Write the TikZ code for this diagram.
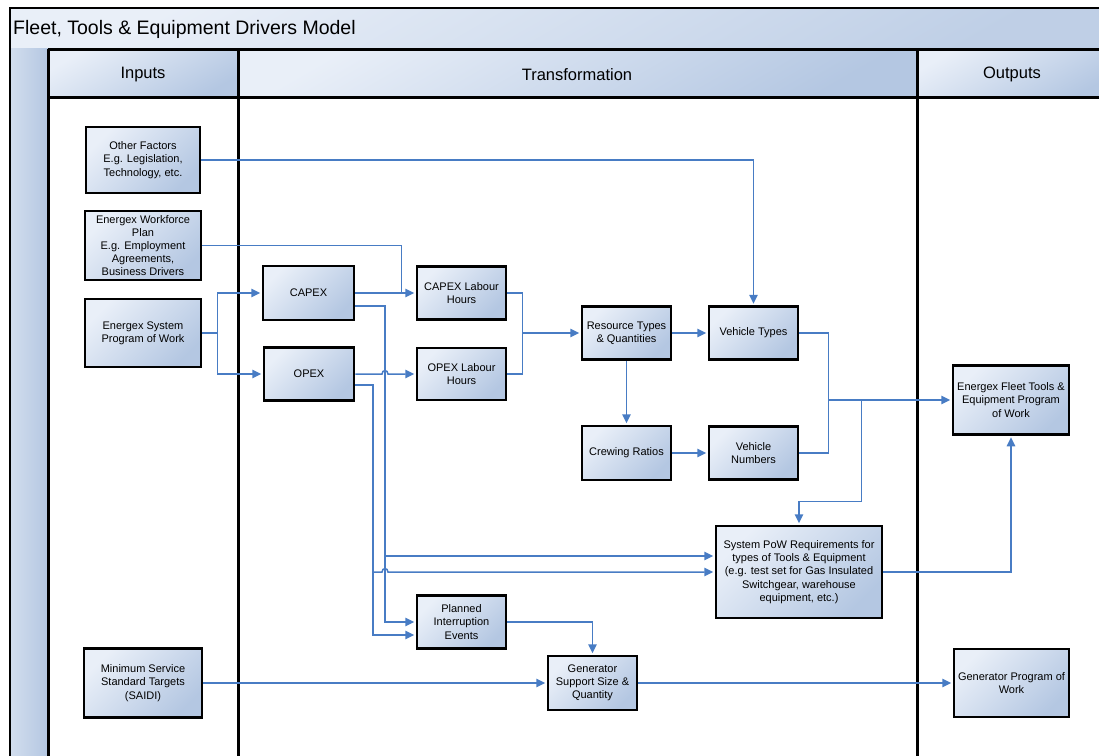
\documentclass[tikz,border=0pt]{standalone}
\usepackage{fontspec}
\setmainfont{Liberation Sans}
\usetikzlibrary{arrows.meta,calc,positioning}

\definecolor{flowblue}{RGB}{72,124,196}
\definecolor{boxlight}{RGB}{233,239,248}
\definecolor{boxdark}{RGB}{180,199,226}

\begin{document}
\begin{tikzpicture}[x=1pt,y=-1pt,
    every node/.append style={font=\fontsize{11}{13.2}\selectfont,align=center,inner sep=1pt},
    box/.style={draw=black,line width=2.9pt,top color=boxlight,bottom color=boxdark,shading angle=45},
    flow/.style={draw=flowblue,line width=1.5pt,shorten >=1.3pt,-{Triangle[length=9pt,width=8.5pt]}},
    link/.style={draw=flowblue,line width=1.5pt},
    lane/.style={line width=3pt},
    head/.style={font=\fontsize{16.5}{19}\selectfont}
  ]
  \useasboundingbox (0,0) rectangle (1099,755);

  % swimlane frame
  \shade[top color=boxlight,bottom color=boxdark!85,shading angle=30] (10,8) rectangle (1112,48);
  \shade[left color=boxdark!60,right color=boxdark] (10,48) rectangle (48,760);
  \foreach \xa/\xb in {48/238,238/917,917/1112}
    \shade[top color=boxlight,bottom color=boxdark,shading angle=30] (\xa,49) rectangle (\xb,97);
  \draw[line width=1.3pt] (1112,8) -- (10,8) -- (10,760);
  \draw[lane] (48,49) -- (1112,49);
  \draw[lane] (48,97) -- (1112,97);
  \foreach \xa in {48,238,917}
    \draw[lane] (\xa,49) -- (\xa,760);

  \node[anchor=west,font=\fontsize{19.5}{22}\selectfont] (title) at (12,29.5) {Fleet, Tools \& Equipment Drivers Model};
  \node[head] (inputs) at (143,74.5) {Inputs};
  \node[head] (transform) at (577,74.5) {Transformation};
  \node[head] (outputs) at (1012,74.5) {Outputs};

  % inputs
  \node[box,minimum width=114,minimum height=66] (other) at (143,160) {Other Factors\\E.g. Legislation,\\Technology, etc.};
  \node[box,minimum width=116,minimum height=69,font=\fontsize{11}{12.8}\selectfont] (wfplan) at (143,245.5) {Energex Workforce\\Plan\\E.g. Employment\\Agreements,\\Business Drivers};
  \node[box,minimum width=116,minimum height=68] (syspow) at (143,333) {Energex System\\Program of Work};
  \node[box,minimum width=118,minimum height=69] (minserv) at (143,683) {Minimum Service\\Standard Targets\\(SAIDI)};

  % transformation
  \node[box,minimum width=91,minimum height=54] (capex) at (308.5,293) {CAPEX};
  \node[box,minimum width=90,minimum height=53] (opex) at (309,374) {OPEX};
  \node[box,minimum width=89,minimum height=53] (capexlab) at (461.5,293) {CAPEX Labour\\Hours};
  \node[box,minimum width=89,minimum height=52] (opexlab) at (461.5,374) {OPEX Labour\\Hours};
  \node[box,minimum width=89,minimum height=53] (restypes) at (626.5,333) {Resource Types\\\& Quantities};
  \node[box,minimum width=89,minimum height=53] (vtypes) at (753.5,333) {Vehicle Types};
  \node[box,minimum width=89,minimum height=54] (crew) at (626.5,453) {Crewing Ratios};
  \node[box,minimum width=89,minimum height=53] (vnum) at (753.5,453) {Vehicle\\Numbers};
  \node[box,minimum width=166,minimum height=92] (reqs) at (799,572) {System PoW Requirements for\\types of Tools \& Equipment\\(e.g. test set for Gas Insulated\\Switchgear, warehouse\\equipment, etc.)};
  \node[box,minimum width=89,minimum height=53] (planned) at (461.5,622) {Planned\\Interruption\\Events};
  \node[box,minimum width=89,minimum height=54] (gensize) at (592.5,683) {Generator\\Support Size \&\\Quantity};

  % outputs
  \node[box,minimum width=116,minimum height=69] (fleet) at (1011,400) {Energex Fleet Tools \&\\Equipment Program\\of Work};
  \node[box,minimum width=115,minimum height=68] (genpow) at (1011.5,683) {Generator Program of\\Work};

  % connectors
  \coordinate (wfjoin) at ($(capexlab.west)+(-14,0)$);
  \coordinate (capbus) at (385,306);
  \coordinate (opbus) at (373,385);
  \coordinate (reqin) at ($(reqs.west)+(0,-16)$);
  \coordinate (plin) at ($(planned.west)+(0,13)$);

  \draw[flow] (other.east) -| (vtypes.north);
  \draw[link] (wfplan.east) -| (wfjoin);
  \draw[flow] (syspow.east) -- ++(15,0) coordinate (spjoin) |- (capex.west);
  \draw[flow] (spjoin) |- (opex.west);
  \draw[flow] (capex.east) -- (capexlab.west);
  \draw[flow] (opex.east) -- (382,374) .. controls (382,369.5) and (388,369.5) .. (388,374) -- (opexlab.west);
  \draw[flow] ($(capex.east)+(0,13)$) -- (capbus) |- (planned.west);
  \draw[flow] (capbus |- reqin) -- (reqin);
  \draw[flow] ($(opex.east)+(0,11)$) -- (opbus) |- (plin);
  \draw[flow] (opbus |- reqs.west) -- (382,572) .. controls (382,567.5) and (388,567.5) .. (388,572) -- (reqs.west);
  \draw[flow] (capexlab.east) -- ++(15,0) coordinate (labjoin) |- (restypes.west);
  \draw[link] (opexlab.east) -| (labjoin);
  \draw[flow] (restypes.east) -- (vtypes.west);
  \draw[flow] (restypes.south) -- (crew.north);
  \draw[flow] (crew.east) -- (vnum.west);
  \draw[flow] (vtypes.east) -- ++(29,0) coordinate (vjoin) |- (fleet.west);
  \draw[link] (vnum.east) -| (vjoin);
  \coordinate (split) at ($(vjoin |- fleet.west)+(33,0)$);
  \draw[flow] (split) |- ($(reqs.north)+(0,-23)$) -- (reqs.north);
  \draw[flow] (reqs.east) -| (fleet.south);
  \draw[flow] (planned.east) -| (gensize.north);
  \draw[flow] (minserv.east) -- (gensize.west);
  \draw[flow] (gensize.east) -- (genpow.west);
\end{tikzpicture}
\end{document}
